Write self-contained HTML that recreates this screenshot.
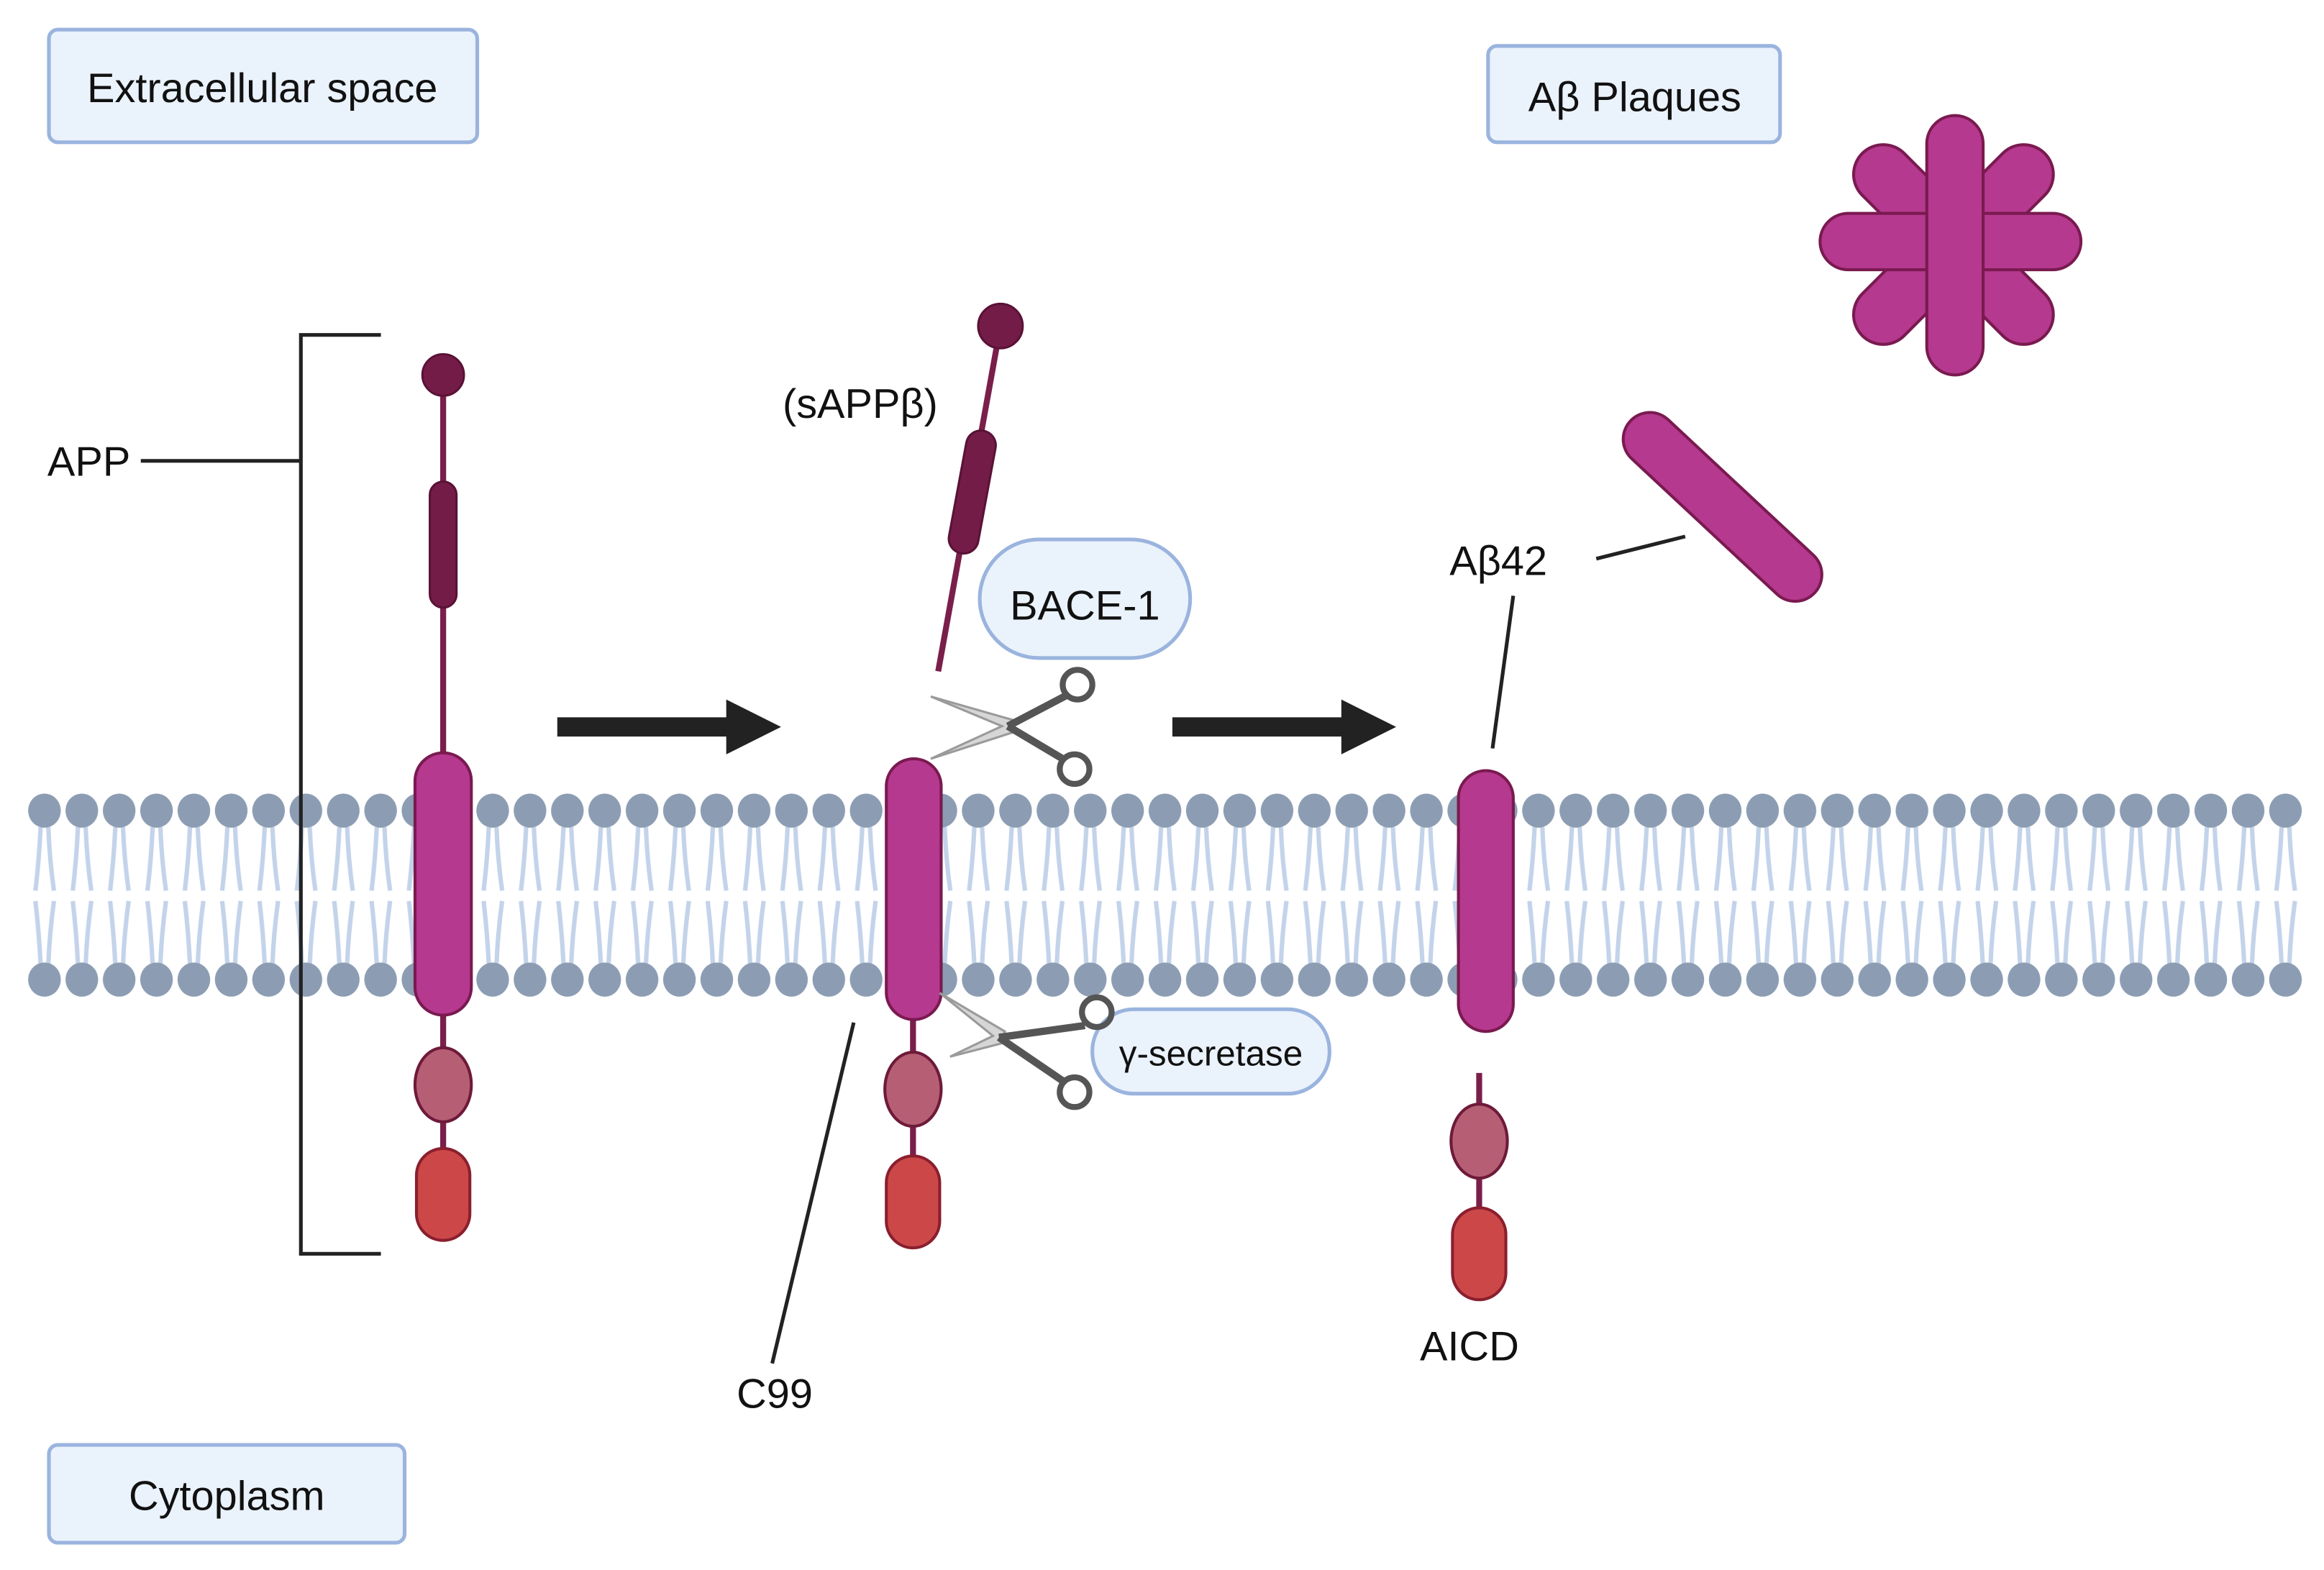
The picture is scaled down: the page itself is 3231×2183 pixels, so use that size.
<!DOCTYPE html>
<html><head><meta charset="utf-8"><style>html,body{margin:0;padding:0;background:#fff}svg{display:block}</style></head>
<body>
<svg width="3231" height="2183" viewBox="0 0 1568 1059.4" preserveAspectRatio="none" xmlns="http://www.w3.org/2000/svg" font-family="Liberation Sans, sans-serif">
<defs>
<pattern id="lip" x="17.4" y="0" width="25.2" height="1059.4" patternUnits="userSpaceOnUse">
  <g stroke="#c3d3ea" stroke-width="3" fill="none">
    <path d="M10 558 Q9 580 6.5 601"/><path d="M15.2 558 Q16 580 19 601"/>
    <path d="M6.5 608 Q9 630 10 651"/><path d="M19 608 Q16 630 15.2 651"/>
  </g>
  <ellipse cx="12.6" cy="547" rx="11" ry="11.5" fill="#8c9db3"/>
  <ellipse cx="12.6" cy="661" rx="11" ry="11.5" fill="#8c9db3"/>
</pattern>
</defs>
<rect x="18" y="530" width="1536" height="145" fill="url(#lip)"/>

<g fill="#eaf2fc" stroke="#9ab4de" stroke-width="2.5">
<rect x="33" y="20" width="289" height="76" rx="6"/>
<rect x="1004" y="31" width="197" height="65" rx="6"/>
<rect x="33" y="975" width="240" height="66" rx="6"/>
<rect x="661" y="364" width="142" height="80" rx="40"/>
<rect x="737" y="681" width="160" height="57" rx="28"/>
</g>
<g fill="#111" font-size="28">
<text x="177" y="69" text-anchor="middle">Extracellular space</text>
<text x="1103" y="75" text-anchor="middle">Aβ Plaques</text>
<text x="153" y="1019" text-anchor="middle">Cytoplasm</text>
<text x="732" y="418" text-anchor="middle">BACE-1</text>
<text x="817" y="719" text-anchor="middle" font-size="24">γ-secretase</text>
<text x="32" y="321">APP</text>
<text x="528" y="282">(sAPPβ)</text>
<text x="497" y="950">C99</text>
<text x="978" y="388">Aβ42</text>
<text x="958" y="918">AICD</text>
</g>

<g stroke="#222" stroke-width="2.5" fill="none">
<path d="M257 226 H203 V846 H257"/>
<path d="M95 311 H203"/>
<path d="M576 690 L521 920"/>
<path d="M1021 402 L1007 505"/>
<path d="M1077 377 L1137 362"/>
</g>

<g fill="#222">
<path d="M376 484 H490 V472 L527 490.5 L490 509 V497 H376 Z"/>
<path d="M791 484 H905 V472 L942 490.5 L905 509 V497 H791 Z"/>
</g>

<line x1="299" y1="253" x2="299" y2="835" stroke="#7a1f4a" stroke-width="4"/>
<circle cx="299" cy="253" r="14" fill="#741c48" stroke="#5a1236" stroke-width="1.5"/>
<rect x="290" y="325" width="18" height="85" rx="9" fill="#741c48" stroke="#5a1236" stroke-width="1.5"/>
<rect x="280" y="508" width="38" height="177" rx="19" fill="#b5398f" stroke="#7a1a50" stroke-width="2"/>
<ellipse cx="299" cy="732" rx="19" ry="25" fill="#b65f74" stroke="#6e1a3a" stroke-width="2"/>
<rect x="281" y="775" width="36" height="62" rx="18" fill="#cc4848" stroke="#8a1f2e" stroke-width="2"/>

<line x1="675" y1="220" x2="633" y2="453" stroke="#7a1f4a" stroke-width="4"/>
<circle cx="675" cy="220" r="15" fill="#741c48" stroke="#5a1236" stroke-width="1.5"/>
<rect x="646" y="290" width="20" height="84" rx="10" fill="#741c48" stroke="#5a1236" stroke-width="1.5" transform="rotate(10.5 656 332)"/>

<line x1="616" y1="688" x2="616" y2="842" stroke="#7a1f4a" stroke-width="4"/>
<rect x="598" y="512" width="37" height="176" rx="18.5" fill="#b5398f" stroke="#7a1a50" stroke-width="2"/>
<ellipse cx="616" cy="735" rx="19" ry="25" fill="#b65f74" stroke="#6e1a3a" stroke-width="2"/>
<rect x="598" y="780" width="36" height="62" rx="18" fill="#cc4848" stroke="#8a1f2e" stroke-width="2"/>

<g>
<path d="M628 470 L684 486 L684 494 L628 512 L676 490 Z" fill="#d6d6d6" stroke="#9a9a9a" stroke-width="1.5"/>
<path d="M680 490 L720 469 M680 490 L717 512" stroke="#555" stroke-width="5" fill="none"/>
<circle cx="727" cy="462" r="10" fill="none" stroke="#555" stroke-width="4"/>
<circle cx="725" cy="519" r="10" fill="none" stroke="#555" stroke-width="4"/>
</g>
<g>
<path d="M634 670 L678 696 L676 704 L641 713 L670 699 Z" fill="#d6d6d6" stroke="#9a9a9a" stroke-width="1.5"/>
<path d="M674 700 L732 692 M674 700 L718 730" stroke="#555" stroke-width="5" fill="none"/>
<circle cx="740" cy="683" r="10" fill="none" stroke="#555" stroke-width="4"/>
<circle cx="725" cy="737" r="10" fill="none" stroke="#555" stroke-width="4"/>
</g>

<rect x="984" y="520" width="37" height="176" rx="18.5" fill="#b5398f" stroke="#7a1a50" stroke-width="2"/>
<line x1="998" y1="724" x2="998" y2="830" stroke="#7a1f4a" stroke-width="4"/>
<ellipse cx="998" cy="770" rx="19" ry="25" fill="#b65f74" stroke="#6e1a3a" stroke-width="2"/>
<rect x="980" y="815" width="36" height="62" rx="18" fill="#cc4848" stroke="#8a1f2e" stroke-width="2"/>

<rect x="1078" y="322" width="170" height="36" rx="18" fill="#b5398f" stroke="#7a1a50" stroke-width="2" transform="rotate(43 1160 340)"/>

<g fill="#b5398f" stroke="#7a1a50" stroke-width="2">
<rect x="1231" y="145" width="174" height="40" rx="20" transform="rotate(45 1318 165)"/>
<rect x="1231" y="145" width="174" height="40" rx="20" transform="rotate(-45 1318 165)"/>
<rect x="1228" y="144" width="176" height="38" rx="19"/>
<rect x="1300" y="78" width="38" height="175" rx="19"/>
</g>
</svg>
</body></html>
